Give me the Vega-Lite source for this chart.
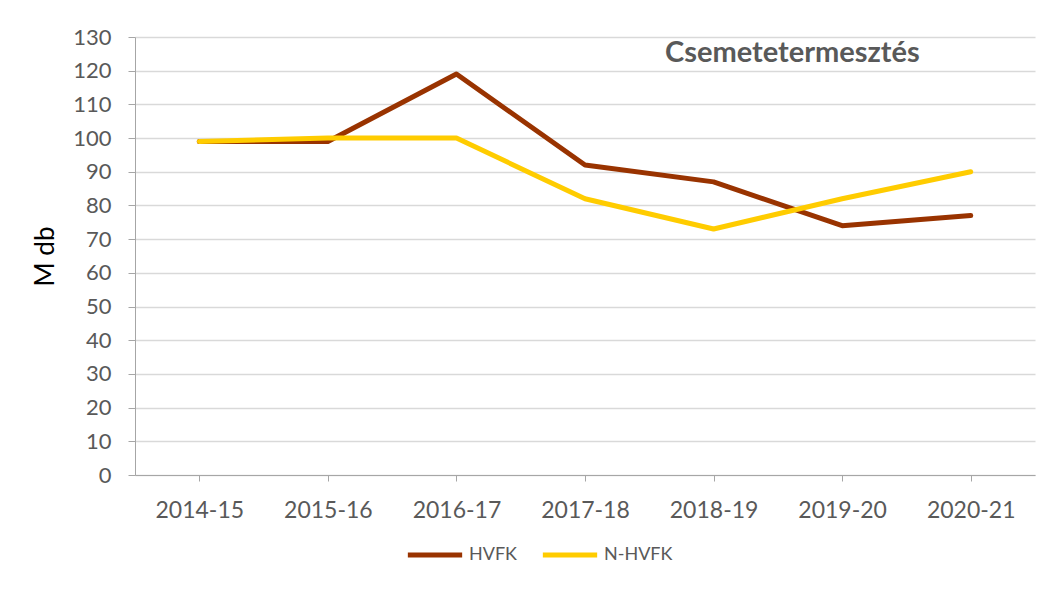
{
  "$schema": "https://vega.github.io/schema/vega-lite/v6.json",
  "width": 900,
  "height": 438,
  "autosize": {"type": "none"},
  "padding": {"left": 135, "top": 37, "right": 26, "bottom": 114},
  "background": "white",
  "title": {
    "text": "Csemetetermesztés",
    "anchor": "start",
    "frame": "group",
    "dx": 530,
    "dy": 46,
    "font": "Lato",
    "fontSize": 29,
    "fontWeight": "bold",
    "color": "#595959"
  },
  "data": {
    "values": [
      {"ev": "2014-15", "sorozat": "HVFK", "ertek": 99},
      {"ev": "2015-16", "sorozat": "HVFK", "ertek": 99},
      {"ev": "2016-17", "sorozat": "HVFK", "ertek": 119},
      {"ev": "2017-18", "sorozat": "HVFK", "ertek": 92},
      {"ev": "2018-19", "sorozat": "HVFK", "ertek": 87},
      {"ev": "2019-20", "sorozat": "HVFK", "ertek": 74},
      {"ev": "2020-21", "sorozat": "HVFK", "ertek": 77},
      {"ev": "2014-15", "sorozat": "N-HVFK", "ertek": 99},
      {"ev": "2015-16", "sorozat": "N-HVFK", "ertek": 100},
      {"ev": "2016-17", "sorozat": "N-HVFK", "ertek": 100},
      {"ev": "2017-18", "sorozat": "N-HVFK", "ertek": 82},
      {"ev": "2018-19", "sorozat": "N-HVFK", "ertek": 73},
      {"ev": "2019-20", "sorozat": "N-HVFK", "ertek": 82},
      {"ev": "2020-21", "sorozat": "N-HVFK", "ertek": 90}
    ]
  },
  "mark": {"type": "line", "strokeWidth": 5, "strokeCap": "round", "strokeJoin": "round"},
  "encoding": {
    "x": {
      "field": "ev",
      "type": "ordinal",
      "scale": {"type": "point", "padding": 0.5},
      "axis": {
        "title": null,
        "labelAngle": 0,
        "labelFont": "Lato",
        "labelFontSize": 23,
        "labelColor": "#595959",
        "labelPadding": 18,
        "domainColor": "#a6a6a6",
        "tickColor": "#a6a6a6",
        "tickSize": 6,
        "grid": false
      }
    },
    "y": {
      "field": "ertek",
      "type": "quantitative",
      "scale": {"domain": [0, 130], "nice": false},
      "axis": {
        "title": "M db",
        "titleFont": "Lato",
        "titleFontSize": 26,
        "titleFontWeight": "normal",
        "titleColor": "#000000",
        "titlePadding": 14,
        "values": [0, 10, 20, 30, 40, 50, 60, 70, 80, 90, 100, 110, 120, 130],
        "labelFont": "Lato",
        "labelFontSize": 22,
        "labelColor": "#595959",
        "labelPadding": 17,
        "domainColor": "#a6a6a6",
        "tickColor": "#a6a6a6",
        "tickSize": 7,
        "gridColor": "#d9d9d9",
        "gridWidth": 1.3
      }
    },
    "color": {
      "field": "sorozat",
      "type": "nominal",
      "scale": {"domain": ["HVFK", "N-HVFK"], "range": ["#993300", "#FFCC00"]},
      "legend": {
        "title": null,
        "orient": "none",
        "direction": "horizontal",
        "legendX": 270,
        "legendY": 488,
        "symbolType": "stroke",
        "symbolSize": 2950,
        "symbolStrokeWidth": 5,
        "labelFont": "Lato",
        "labelFontSize": 18,
        "labelColor": "#595959",
        "labelOffset": 4,
        "columnPadding": 14
      }
    }
  },
  "config": {
    "view": {"stroke": null}
  }
}
